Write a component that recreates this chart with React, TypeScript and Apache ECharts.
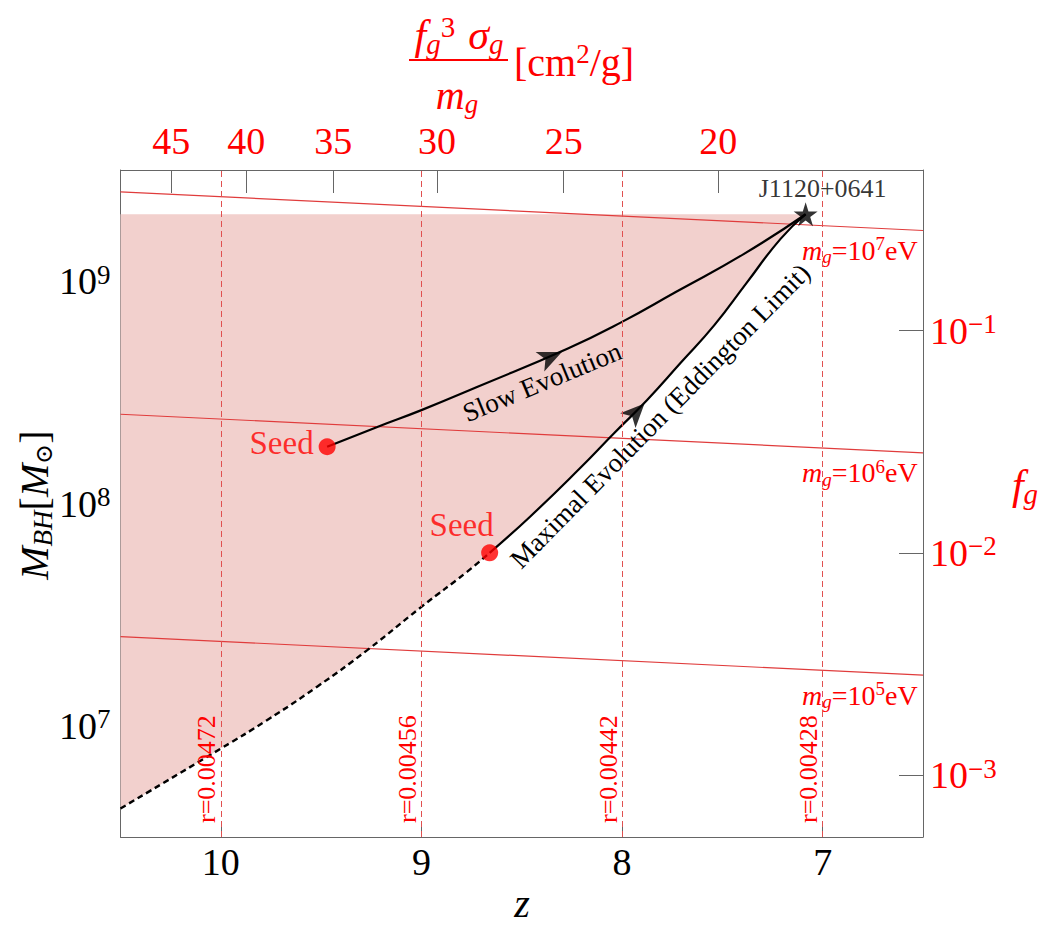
import React, { useEffect, useRef } from 'react';
import * as echarts from 'echarts';

const SERIF = '"Liberation Serif", "Times New Roman", "DejaVu Serif", serif';
const RED = '#ff0000';
const FRAME = '#666666';

// Axis ranges
const zMin = 6.5;
const zMax = 10.5;
const massMin = Math.pow(10, 6.5);
const massMax = Math.pow(10, 9.5);
const fgMin = Math.pow(10, -3.278);
const fgMax = Math.pow(10, -0.278);

// Tick positions
const zTicks = [10, 9, 8, 7];
const massTicks = [1e7, 1e8, 1e9];
const fgTicks = [1e-3, 1e-2, 1e-1];
const topTickZ = [10.2465, 9.873, 9.439, 8.923, 8.291, 7.52];
const topTickLabels = ['45', '40', '35', '30', '25', '20'];

// Constant-r guide lines
const rLineZ = [10, 9, 8, 7];
const rLabels = ['r=0.00472', 'r=0.00456', 'r=0.00442', 'r=0.00428'];

// Constant graviton-mass lines (mass at z = 10.5 and at z = 6.5)
const mgExponents = [7, 6, 5];
const mgMassLeft = [2.52e9, 2.52e8, 2.52e7];
const mgMassRight = [1.69e9, 1.69e8, 1.69e7];

// Eddington-limited growth track
const eddDashedZ = [10.5, 10.0, 9.77, 9.52, 9.27, 9.0, 8.77, 8.66];
const eddDashedM = [4.25e6, 7.9e6, 1.06e7, 1.5e7, 2.19e7, 3.43e7, 4.95e7, 6.0e7];
const eddSolidZ = [8.66, 8.46, 8.21, 8.04, 7.875, 7.71, 7.54, 7.38, 7.21, 7.085];
const eddSolidM = [6.0e7, 8.7e7, 1.44e8, 2.07e8, 2.92e8, 4.27e8, 6.34e8, 9.8e8, 1.55e9, 2.0e9];

// Slow growth track
const slowZ = [9.47, 9.22, 9.0, 8.72, 8.27, 8.0, 7.73, 7.39, 7.085];
const slowM = [1.8e8, 2.21e8, 2.63e8, 3.35e8, 4.98e8, 6.56e8, 8.96e8, 1.33e9, 2.0e9];

// Seeds, quasar and direction arrows
const seedZ = [9.47, 8.66];
const seedM = [1.8e8, 6.0e7];
const quasarZ = 7.085;
const quasarM = 2.0e9;
const quasarName = 'J1120+0641';
const arrowZ = [8.3, 7.888];
const arrowM = [4.8e8, 2.82e8];
const arrowRotate = [-66, -44];

const STAR =
  'path://M50,0 L61.2,34.5 L97.6,34.5 L68.2,55.9 L79.4,90.5 L50,69.1 L20.6,90.5 L31.8,55.9 L2.4,34.5 L38.8,34.5 Z';

const pair = (zs: number[], ms: number[]) => zs.map((z, i) => [z, ms[i]]);

const axisRich = (color: string) => ({
  b: { fontSize: 38, fontFamily: SERIF, color, lineHeight: 40 },
  s: { fontSize: 27, fontFamily: SERIF, color, verticalAlign: 'top', lineHeight: 20 },
});

const zr = (size: number, color: string, lh = size + 4) => ({
  i: { fontFamily: SERIF, fontStyle: 'italic', fontSize: size, fill: color, lineHeight: lh },
  n: { fontFamily: SERIF, fontSize: size, fill: color, lineHeight: lh },
  sp: { fontFamily: SERIF, fontSize: size, fill: color, lineHeight: lh, width: Math.round(size * 0.3) },
  sub: {
    fontFamily: SERIF,
    fontStyle: 'italic',
    fontSize: Math.round(size * 0.68),
    fill: color,
    verticalAlign: 'bottom',
    lineHeight: Math.round(size * 0.55),
  },
  sup: {
    fontFamily: SERIF,
    fontSize: Math.round(size * 0.68),
    fill: color,
    verticalAlign: 'top',
    lineHeight: Math.round(size * 0.55),
  },
  odot: {
    fontFamily: '"DejaVu Serif", serif',
    fontSize: Math.round(size * 0.6),
    fill: color,
    verticalAlign: 'bottom',
    lineHeight: Math.round(size * 0.55),
  },
});

function nearestTopLabel(v: number) {
  let best = 0;
  for (let i = 1; i < topTickZ.length; i++) {
    if (Math.abs(topTickZ[i] - v) < Math.abs(topTickZ[best] - v)) best = i;
  }
  return topTickLabels[best];
}

export default function App() {
  const ref = useRef<HTMLDivElement>(null);

  useEffect(() => {
    if (!ref.current) return;
    const chart = echarts.init(ref.current, null, { renderer: 'svg' });

    // Shaded allowed region: below the quasar mass, above the Eddington track
    const regionPoints = [
      [zMax, quasarM],
      [quasarZ, quasarM],
      ...pair(eddSolidZ, eddSolidM).reverse(),
      ...pair(eddDashedZ, eddDashedM).reverse(),
    ];

    const mgSeries = mgExponents.map((e, i) => ({
      type: 'line',
      name: 'mg' + e,
      data: [
        [zMax, mgMassLeft[i]],
        [zMin, mgMassRight[i]],
      ],
      symbol: 'none',
      silent: true,
      z: 2,
      lineStyle: { color: '#e03c3c', width: 1.2 },
      ...(i === 0
        ? {
            markLine: {
              silent: true,
              symbol: ['none', 'none'],
              lineStyle: { color: '#e05050', width: 1, type: [6, 4] },
              label: {
                show: true,
                position: 'insideStartTop',
                color: RED,
                fontSize: 26,
                fontFamily: SERIF,
                distance: [14, 1],
              },
              data: rLineZ.map((z, k) => ({ xAxis: z, label: { formatter: rLabels[k] } })),
            },
          }
        : {}),
    }));

    const curveStyle = { smooth: 0.5, symbol: 'none', z: 3 };

    const captionStyle = {
      fontSize: 27,
      fontFamily: SERIF,
      fill: '#000',
      align: 'center',
      verticalAlign: 'middle',
    };

    const option: any = {
      animation: false,
      backgroundColor: '#ffffff',
      textStyle: { fontFamily: SERIF },
      grid: { left: 120.5, right: 125, top: 170, bottom: 88, containLabel: false, outerBoundsMode: 'none' },
      xAxis: [
        {
          type: 'value',
          position: 'bottom',
          min: zMin,
          max: zMax,
          inverse: true,
          splitLine: { show: false },
          axisLine: { show: true, onZero: false, lineStyle: { color: FRAME, width: 1 } },
          axisTick: { show: true, inside: true, length: 14, customValues: zTicks, lineStyle: { color: FRAME } },
          axisLabel: { customValues: zTicks, fontSize: 38, color: '#000', fontFamily: SERIF, margin: 6 },
        },
        {
          type: 'value',
          position: 'top',
          min: zMin,
          max: zMax,
          inverse: true,
          splitLine: { show: false },
          axisLine: { show: true, onZero: false, lineStyle: { color: FRAME, width: 1 } },
          axisTick: { show: true, inside: true, length: 23, customValues: topTickZ, lineStyle: { color: FRAME } },
          axisLabel: {
            customValues: topTickZ,
            formatter: (v: number) => nearestTopLabel(v),
            fontSize: 38,
            color: RED,
            fontFamily: SERIF,
            margin: 10,
          },
        },
      ],
      yAxis: [
        {
          type: 'log',
          logBase: 10,
          position: 'left',
          min: massMin,
          max: massMax,
          splitLine: { show: false },
          minorTick: { show: false },
          axisLine: { show: true, onZero: false, lineStyle: { color: FRAME, width: 1 } },
          axisTick: { show: true, inside: true, length: 24, customValues: massTicks, lineStyle: { color: FRAME } },
          axisLabel: {
            customValues: massTicks,
            margin: 10,
            formatter: (v: number) => `{b|10}{s|${Math.round(Math.log10(v))}}`,
            rich: axisRich('#000'),
          },
        },
        {
          type: 'log',
          logBase: 10,
          position: 'right',
          min: fgMin,
          max: fgMax,
          splitLine: { show: false },
          minorTick: { show: false },
          axisLine: { show: true, onZero: false, lineStyle: { color: FRAME, width: 1 } },
          axisTick: { show: true, inside: true, length: 24, customValues: fgTicks, lineStyle: { color: FRAME } },
          axisLabel: {
            customValues: fgTicks,
            margin: 7,
            formatter: (v: number) => `{b|10}{s|\u2212${-Math.round(Math.log10(v))}}`,
            rich: axisRich(RED),
          },
        },
      ],
      series: [
        {
          type: 'custom',
          name: 'allowed region',
          silent: true,
          z: 1,
          data: [0],
          renderItem: (_params: any, api: any) => ({
            type: 'polygon',
            shape: { points: regionPoints.map((p) => api.coord(p)) },
            style: { fill: '#f2d0cd' },
          }),
        },
        ...mgSeries,
        {
          type: 'line',
          name: 'Eddington (before seed)',
          data: pair(eddDashedZ, eddDashedM),
          ...curveStyle,
          lineStyle: { color: '#000', width: 2.4, type: [6, 4] },
        },
        {
          type: 'line',
          name: 'Maximal Evolution',
          data: pair(eddSolidZ, eddSolidM),
          ...curveStyle,
          lineStyle: { color: '#000', width: 2.2 },
        },
        {
          type: 'line',
          name: 'Slow Evolution',
          data: pair(slowZ, slowM),
          ...curveStyle,
          lineStyle: { color: '#000', width: 2.2 },
        },
        {
          type: 'scatter',
          name: 'arrows',
          z: 4,
          symbol: 'arrow',
          symbolSize: [16, 24],
          itemStyle: { color: '#000' },
          data: arrowZ.map((z, i) => ({ value: [z, arrowM[i]], symbolRotate: arrowRotate[i] })),
        },
        {
          type: 'scatter',
          name: 'Seed',
          z: 5,
          symbolSize: 17,
          itemStyle: { color: RED },
          data: seedZ.map((z, i) => ({
            value: [z, seedM[i]],
            label:
              i === 0
                ? { show: true, position: 'left', distance: 5, offset: [0, -4] }
                : { show: true, position: 'top', distance: 5, offset: [-28, 2] },
          })),
          label: { formatter: 'Seed', color: RED, fontSize: 33, fontFamily: SERIF },
        },
        {
          type: 'scatter',
          name: quasarName,
          z: 5,
          symbol: STAR,
          symbolSize: 24,
          itemStyle: { color: '#000' },
          data: [[quasarZ, quasarM]],
          label: {
            show: true,
            position: 'top',
            distance: 3,
            offset: [17, 2],
            formatter: quasarName,
            color: '#000',
            fontSize: 26,
            fontFamily: SERIF,
          },
        },
      ],
      graphic: {
        elements: [
          // top axis title: f_g^3 sigma_g / m_g [cm^2/g]
          {
            id: 'top-num',
            type: 'text',
            x: 459,
            y: 35,
            style: {
              text: '{i|f}{sub|g}{sup|3}{sp|\u00a0}{i|\u03c3}{sub|g}',
              rich: zr(42, RED),
              align: 'center',
              verticalAlign: 'middle',
            },
          },
          {
            id: 'top-bar',
            type: 'line',
            shape: { x1: 409, y1: 60, x2: 508, y2: 60 },
            style: { stroke: RED, lineWidth: 2 },
          },
          {
            id: 'top-den',
            type: 'text',
            x: 457,
            y: 95,
            style: { text: '{i|m}{sub|g}', rich: zr(40, RED), align: 'center', verticalAlign: 'middle' },
          },
          {
            id: 'top-unit',
            type: 'text',
            x: 514,
            y: 62,
            style: { text: '{n|[cm}{sup|2}{n|/g]}', rich: zr(40, RED), align: 'left', verticalAlign: 'middle' },
          },
          // left axis title
          {
            id: 'left-title',
            type: 'text',
            x: 34,
            y: 505,
            rotation: Math.PI / 2,
            style: {
              text: '{i|M}{sub|BH}{n|[}{i|M}{odot|\u2299}{n|]}',
              rich: zr(40, '#000'),
              align: 'center',
              verticalAlign: 'middle',
            },
          },
          // bottom axis title
          {
            id: 'bottom-title',
            type: 'text',
            x: 522,
            y: 903,
            style: {
              text: 'z',
              fontSize: 40,
              fontStyle: 'italic',
              fontFamily: SERIF,
              fill: '#000',
              lineHeight: 34,
              align: 'center',
              verticalAlign: 'middle',
            },
          },
          // right axis title
          {
            id: 'right-title',
            type: 'text',
            x: 1025,
            y: 485,
            style: { text: '{i|f}{sub|g}', rich: zr(42, RED), align: 'center', verticalAlign: 'middle' },
          },
          // graviton mass labels
          ...mgExponents.map((e, i) => ({
            id: 'mg-label-' + e,
            type: 'text',
            x: 802,
            y: 250 + i * 222.5,
            style: {
              text: `{i|m}{sub|g}{n|=10}{sup|${e}}{n|eV}`,
              rich: zr(28, RED),
              align: 'left',
              verticalAlign: 'middle',
            },
          })),
          // track captions
          {
            id: 'caption-slow',
            type: 'text',
            x: 542,
            y: 382,
            z: 100,
            rotation: (22.4 * Math.PI) / 180,
            style: { text: 'Slow Evolution', ...captionStyle },
          },
          {
            id: 'caption-max',
            type: 'text',
            x: 660,
            y: 416,
            z: 100,
            rotation: (45.5 * Math.PI) / 180,
            style: { text: 'Maximal Evolution (Eddington Limit)', ...captionStyle },
          },
        ],
      },
    };

    chart.setOption(option);
    return () => chart.dispose();
  }, []);

  return (
    <div
      ref={ref}
      style={{ position: 'fixed', left: 0, top: 0, width: 1048, height: 925, background: '#fff' }}
    />
  );
}
